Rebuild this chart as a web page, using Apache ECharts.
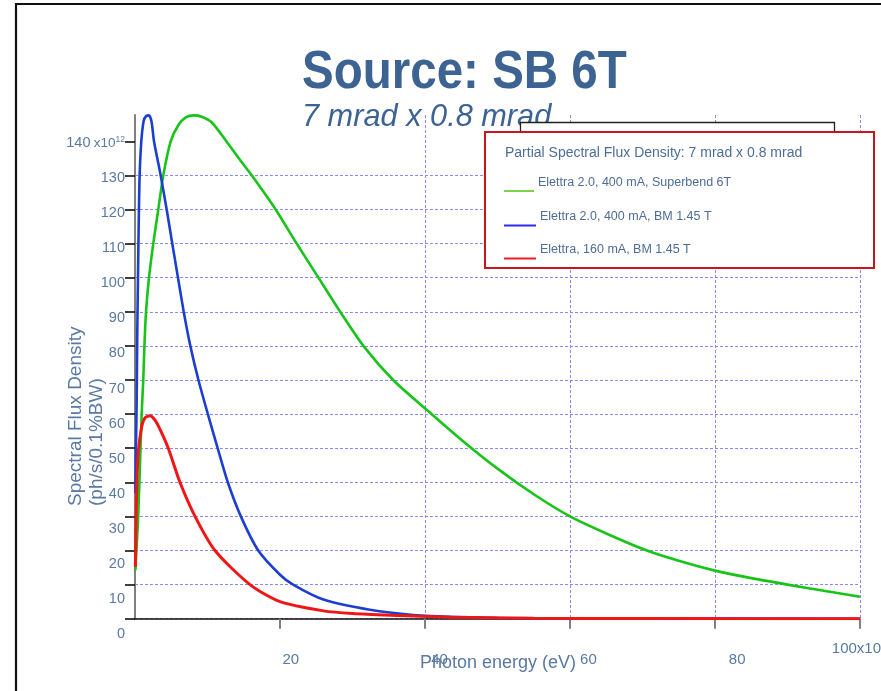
<!DOCTYPE html>
<html>
<head>
<meta charset="utf-8">
<script src="https://cdn.jsdelivr.net/npm/echarts@6/dist/echarts.min.js"></script>
<style>
  html, body { margin: 0; padding: 0; background: #ffffff; }
  #chart { width: 881px; height: 691px; }
</style>
</head>
<body>
<div id="chart"></div>
<script>
// Partial spectral flux density (ph/s/0.1%BW, units of 1e12) versus photon energy (keV)
const seriesNames = [
  'Elettra 2.0, 400 mA, Superbend 6T',
  'Elettra 2.0, 400 mA, BM 1.45 T',
  'Elettra, 160 mA, BM 1.45 T'
];
const seriesColors = ['#17c417', '#1c3fcf', '#f01616'];
const legendColors = ['#7fd14c', '#2a2ae6', '#ef1d1d'];

const superbendEnergy = [0.05, 0.25, 0.46, 0.7, 0.92, 1.14, 1.3, 1.52, 1.93, 2.52, 3.21, 3.9, 4.92, 5.97, 7.0, 8.1, 9.2, 10.6, 12.6, 14.5, 16.1, 19.4, 22.3, 25.3, 28.3, 31.5, 35.6, 40, 45, 50, 55, 60, 65, 70.6, 75, 80, 85, 90, 95, 100];
const superbendFlux   = [14.2, 22, 31, 46, 60, 70, 80, 90, 100, 110, 120, 130, 140, 144.7, 147, 147.6, 147.2, 145.5, 140, 134.5, 130, 120, 110, 100, 90, 80, 70, 61.7, 52.5, 44, 36.5, 30, 25, 20, 17, 14.1, 11.9, 10, 8.2, 6.45];

const bm400Energy = [0.05, 0.15, 0.23, 0.32, 0.41, 0.52, 0.64, 0.87, 1.2, 1.55, 1.93, 2.3, 2.62, 3.54, 4.37, 5.14, 5.93, 6.72, 7.63, 8.75, 10.05, 11.4, 12.8, 14.6, 17.0, 20, 21.8, 26, 32.4, 38.4, 45, 50, 60, 70, 100];
const bm400Flux   = [36.8, 52, 64, 85, 100, 117, 130, 140, 146, 147.4, 147.6, 145.5, 140, 130, 120, 110, 100, 90, 80, 70, 60, 50, 40, 30, 20, 12.9, 10, 5.6, 2.6, 1.1, 0.45, 0.22, 0.06, 0.02, 0];

const bm160Energy = [0.05, 0.1, 0.23, 0.45, 0.92, 1.38, 2.07, 2.76, 3.45, 4.59, 6.2, 8.28, 11.03, 15.86, 20, 26, 30, 35.2, 43.4, 55, 70, 100];
const bm160Flux   = [15.2, 23, 37.7, 48.6, 56.3, 58.9, 59.5, 58.2, 55.5, 50, 40, 30, 20, 10, 5.0, 2.3, 1.5, 1.0, 0.45, 0.15, 0.04, 0];

const yTickValues = [0, 10, 20, 30, 40, 50, 60, 70, 80, 90, 100, 110, 120, 130, 140];
const xTickValues = [20, 40, 60, 80, 100];

const FONT = '"Liberation Sans", Arial, Helvetica, sans-serif';
const LABEL_COLOR = '#5a79a3';
const TITLE_COLOR = '#3d6393';
const GRID_LINE = { color: '#8a8af2', type: [3, 2], width: 1 };

const pair = (xs, ys) => xs.map((x, i) => [x, ys[i]]);
const curves = [
  pair(superbendEnergy, superbendFlux),
  pair(bm400Energy, bm400Flux),
  pair(bm160Energy, bm160Flux)
];

const chart = echarts.init(document.getElementById('chart'), null, { renderer: 'canvas' });

// legend drawn as a framed panel over the plot
const legendItems = [];
const legendRows = [
  { lineY: 191, textY: 183, lineX2: 534, textX: 538 },
  { lineY: 225.5, textY: 216.5, lineX2: 536, textX: 540 },
  { lineY: 258.5, textY: 249.5, lineX2: 536, textX: 540 }
];
seriesNames.forEach((name, i) => {
  const r = legendRows[i];
  legendItems.push({
    type: 'line', z: 102, silent: true,
    shape: { x1: 504, y1: r.lineY, x2: r.lineX2, y2: r.lineY },
    style: { stroke: legendColors[i], lineWidth: 2 }
  });
  legendItems.push({
    type: 'text', z: 102, silent: true, x: r.textX, y: r.textY,
    style: { text: name, fontSize: 12.5, fontFamily: FONT, fill: '#4d6d98', align: 'left', verticalAlign: 'middle' }
  });
});

const option = {
  backgroundColor: '#ffffff',
  animation: false,
  grid: [
    { left: 135, right: 21, top: 115, bottom: 72.3, outerBoundsMode: 'none', containLabel: false },
    { left: 142, right: -5, top: 143, bottom: 57, outerBoundsMode: 'none', containLabel: false }
  ],
  xAxis: [
    {
      gridIndex: 0, type: 'value', min: 0, max: 100, interval: 20,
      axisLine: { show: true, lineStyle: { color: '#111111', width: 1.5 } },
      axisTick: { show: true, length: 10, customValues: xTickValues, lineStyle: { color: '#808080', width: 2 } },
      axisLabel: { show: false },
      splitLine: { show: true, showMinLine: false, lineStyle: GRID_LINE }
    },
    {
      gridIndex: 1, type: 'value', min: 0, max: 100, interval: 20,
      axisLine: { show: false }, axisTick: { show: false }, splitLine: { show: false },
      axisLabel: {
        show: true, margin: 7, alignMaxLabel: 'right',
        formatter: v => v === 0 ? '' : (v === 100 ? '{a|100x10}{s|3}' : '{n|' + v + '}'),
        rich: {
          n: { fontSize: 15, fontFamily: FONT, color: LABEL_COLOR, padding: [11, 0, 0, 0] },
          a: { fontSize: 15, fontFamily: FONT, color: LABEL_COLOR },
          s: { fontSize: 9, fontFamily: FONT, color: LABEL_COLOR, verticalAlign: 'top' }
        }
      }
    }
  ],
  yAxis: [
    {
      gridIndex: 0, type: 'value', min: 0, max: 147.7, interval: 10,
      axisLine: { show: true, lineStyle: { color: '#808080', width: 2 } },
      axisTick: { show: true, length: 10, customValues: yTickValues, lineStyle: { color: '#000000', width: 1.5 } },
      axisLabel: { show: false },
      splitLine: { show: true, showMaxLine: false, lineStyle: GRID_LINE }
    },
    {
      gridIndex: 1, type: 'value', min: 0, max: 140, interval: 10, offset: 7,
      axisLine: { show: false }, axisTick: { show: false }, splitLine: { show: false },
      axisLabel: {
        show: true, margin: 10,
        formatter: v => v === 140 ? '{n|140} {x|x10}{s|12}' : '{n|' + v + '}',
        rich: {
          n: { fontSize: 14.5, fontFamily: FONT, color: LABEL_COLOR },
          x: { fontSize: 13.5, fontFamily: FONT, color: LABEL_COLOR },
          s: { fontSize: 8.5, fontFamily: FONT, color: LABEL_COLOR, verticalAlign: 'top' }
        }
      }
    }
  ],
  series: curves.map((data, i) => ({
    name: seriesNames[i],
    type: 'line',
    xAxisIndex: 0, yAxisIndex: 0,
    data: data,
    showSymbol: false,
    smooth: 0.25,
    z: 3 + i,
    lineStyle: { color: seriesColors[i], width: i === 2 ? 3 : 2.6 }
  })),
  graphic: [
    {
      type: 'rect', z: -10, silent: true,
      shape: { x: 16, y: 4, width: 900, height: 720 },
      style: { fill: null, stroke: '#111111', lineWidth: 2.2 }
    },
    {
      type: 'text', z: 50, silent: true, x: 302, y: 73, scaleX: 0.88,
      style: { text: 'Source: SB 6T', fontSize: 54, fontWeight: 'bold', fontFamily: FONT, fill: TITLE_COLOR, align: 'left', verticalAlign: 'middle' }
    },
    {
      type: 'text', z: 50, silent: true, x: 302, y: 117, scaleX: 0.96,
      style: { text: '7 mrad x 0.8 mrad', fontSize: 32, fontStyle: 'italic', fontFamily: FONT, fill: TITLE_COLOR, align: 'left', verticalAlign: 'middle' }
    },
    {
      type: 'rect', z: 100, silent: true,
      shape: { x: 520.5, y: 122.5, width: 314, height: 40 },
      style: { fill: '#ffffff', stroke: '#222222', lineWidth: 1.3 }
    },
    {
      type: 'rect', z: 101, silent: true,
      shape: { x: 485, y: 132, width: 389, height: 136 },
      style: { fill: '#ffffff', stroke: '#c4161c', lineWidth: 2 }
    },
    {
      type: 'text', z: 102, silent: true, x: 505, y: 153,
      style: { text: 'Partial Spectral Flux Density: 7 mrad x 0.8 mrad', fontSize: 14, fontFamily: FONT, fill: '#4d6d98', align: 'left', verticalAlign: 'middle' }
    },
    ...legendItems,
    {
      type: 'text', z: 50, silent: true, x: 65, y: 506, rotation: Math.PI / 2,
      style: { text: 'Spectral Flux Density\n(ph/s/0.1%BW)', fontSize: 19, lineHeight: 21, fontFamily: FONT, fill: LABEL_COLOR, align: 'left', verticalAlign: 'top' }
    },
    {
      type: 'text', z: 50, silent: true, x: 498, y: 663,
      style: { text: 'Photon energy (eV)', fontSize: 18, fontFamily: FONT, fill: LABEL_COLOR, align: 'center', verticalAlign: 'middle' }
    }
  ]
};

chart.setOption(option);
</script>
</body>
</html>
